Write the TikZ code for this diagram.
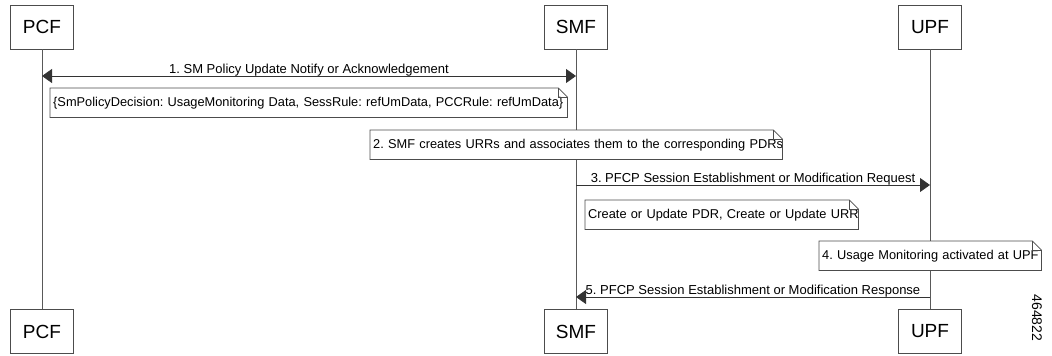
\documentclass[tikz,border=0pt]{standalone}
\usepackage{fontspec}
\setmainfont{Liberation Sans}
\usetikzlibrary{arrows.meta}
\frenchspacing
\newcommand{\dogear}[1]{%
  \draw[black!70, line width=0.8pt] (#1.north west) -- ([xshift=-9pt]#1.north east)
    -- ([yshift=-9pt]#1.north east) -- (#1.south east) -- (#1.south west) -- cycle;
  \draw[black!70, line width=0.6pt] ([xshift=-9pt]#1.north east) |- ([yshift=-9pt]#1.north east);}
\begin{document}
\begin{tikzpicture}[x=1pt,y=-1pt,
    entity/.style={draw=black!70, line width=0.8pt, fill=white, minimum width=63pt,
      minimum height=44pt, inner sep=0pt, font=\fontsize{19}{21}\selectfont},
    lifeline/.style={draw=black!65, line width=0.8pt},
    tip/.style={-{Triangle[length=10pt,width=14pt]}},
    msg/.style={draw=black!80, line width=0.8pt, tip},
    msglabel/.style={anchor=base, inner sep=0pt, font=\fontsize{13}{15}\selectfont},
    note/.style={fill=white, anchor=north west, minimum height=29pt, inner xsep=3pt,
      inner ysep=0pt, text width=#1, align=left, font=\fontsize{12.8}{15}\selectfont}]
    \useasboundingbox (0,0) rectangle (1052,356);
    % Entidades arriba
    \node[entity] (pcf) at (42,27)  {PCF};
    \node[entity] (smf) at (576,27) {SMF};
    \node[entity] (upf) at (930,27) {UPF};
    % Entidades abajo
    \node[entity] (pcfb) at (42,331.5)  {PCF};
    \node[entity] (smfb) at (576,331.5) {SMF};
    \node[entity] (upfb) at (930,331.5) {UPF};
    % Lineas de vida
    \draw[lifeline] (pcf) -- (pcfb);
    \draw[lifeline] (smf) -- (smfb);
    \draw[lifeline] (upf) -- (upfb);
    % Puntos de los mensajes
    \coordinate (m1a) at (pcf |- 0,76);
    \coordinate (m1b) at (smf |- 0,76);
    \coordinate (m3a) at (smf |- 0,185);
    \coordinate (m3b) at (upf |- 0,185);
    \coordinate (m5a) at (upf |- 0,297);
    \coordinate (m5b) at (smf |- 0,297);
    % Mensajes
    \draw[msg, {Triangle[length=10pt,width=14pt]}-{Triangle[length=10pt,width=14pt]}] (m1a) -- (m1b);
    \node[msglabel] (m1lbl) at (309,73) {1. SM Policy Update Notify or Acknowledgement};
    \draw[msg] (m3a) -- (m3b);
    \node[msglabel] (m3lbl) at (753,182) {3. PFCP Session Establishment or Modification Request};
    \draw[msg] (m5a) -- (m5b);
    \node[msglabel] (m5lbl) at (753,294) {5. PFCP Session Establishment or Modification Response};
    % Notas (ancho menos 6pt de margen)
    \node[note=511pt] (note1) at (50,88)
      {\mbox{\{SmPolicyDecision: UsageMonitoring Data, SessRule: refUmData, PCCRule: refUmData\}}};
    \dogear{note1}
    \node[note=406pt] (note2) at (370,130)
      {\mbox{2. SMF creates URRs and associates them to the corresponding PDRs}};
    \dogear{note2}
    \node[note=267pt] (note3) at (585,200)
      {\mbox{Create or Update PDR, Create or Update URR}};
    \dogear{note3}
    \node[note=216pt] (note4) at (819,241)
      {\mbox{4. Usage Monitoring activated at UPF}};
    \dogear{note4}
    % Numero de figura
    \node[rotate=-90, font=\fontsize{14}{16}\selectfont] (figid) at (1037,318) {464822};
\end{tikzpicture}
\end{document}
